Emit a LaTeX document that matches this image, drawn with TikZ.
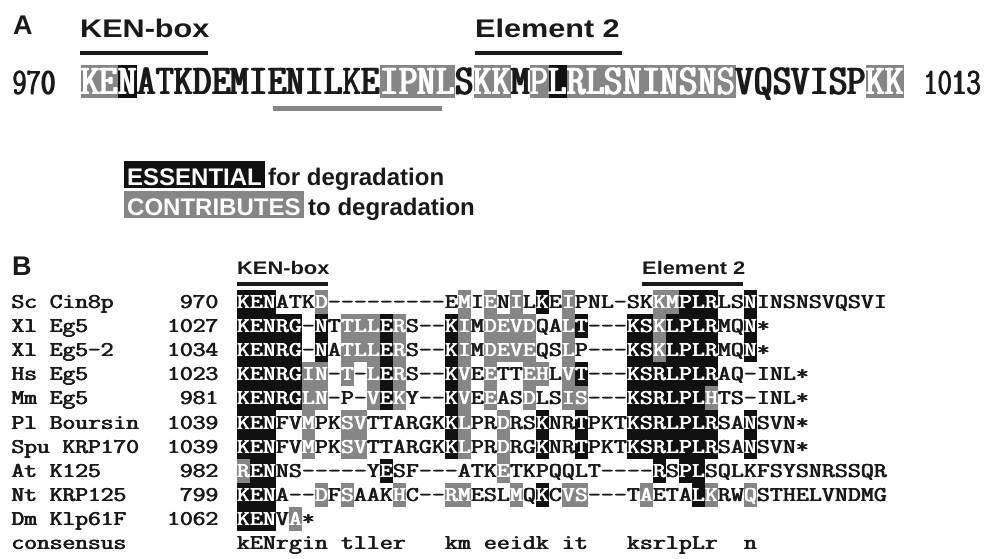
\documentclass[tikz,border=0pt]{standalone}
\usepackage{fontspec}
\setmainfont{Liberation Sans}
\newfontfamily\seqfont{Latin Modern Mono}
\usepackage{tikz}
\definecolor{alblack}{HTML}{111111}
\definecolor{algray}{HTML}{868686}
\definecolor{alink}{HTML}{1A1A1A}
\newcommand{\heavy}[2]{\rlap{#2}\kern#1\rlap{#2}\kern#1#2}
\newcommand{\nm}[1]{\scalebox{1}[0.85]{\heavy{0.5pt}{#1}}}
\newcommand{\alnsetup}[7]{\def\alnL{#1}\def\alnW{#2}\def\alnH{#3}\def\alnB{#4}\def\alnFont{#5}\def\alnS{#6}\def\alnK{#7}}
\newcommand{\alnrow}[4]{\def\alnTag{#1}\def\alnY{#2}\def\alnC{0}\alnwalk#3\relax#4\relax}
\def\alnwalk#1#2\relax#3#4\relax{%
  \alncell{#1}{#3}%
  \pgfmathtruncatemacro\alnC{\alnC+1}%
  \ifx\relax#2\relax\else\alnwalk#2\relax#4\relax\fi}
\newcommand{\alncell}[2]{%
  \pgfmathsetmacro\alnX{\alnL+\alnC*\alnW}%
  \def\alnInk{alink}%
  \if b#2\fill[alblack] (\alnX,\alnY-\alnH/2) rectangle ++(\alnW,\alnH);\def\alnInk{white}\fi
  \if g#2\fill[algray] (\alnX,\alnY-\alnH/2) rectangle ++(\alnW,\alnH);\def\alnInk{white}\fi
  \if .#1\else
    \node[anchor=base,text=\alnInk,font=\alnFont] (\alnTag-\alnC) at (\alnX+\alnW/2,\alnY+\alnB) {\scalebox{1}[\alnS]{\heavy{\alnK}{#1}}};
  \fi}

\begin{document}
\begin{tikzpicture}[x=1pt,y=-1pt,
  every node/.style={inner sep=0pt,text=alink},
  panel/.style={font=\bfseries\fontsize{27}{30}\selectfont,anchor=base west},
  headA/.style={font=\bfseries\fontsize{25.5}{28}\selectfont,anchor=base west},
  headB/.style={font=\bfseries\fontsize{18.2}{20}\selectfont,anchor=base west},
  numA/.style={font=\seqfont\fontsize{27.8}{30}\selectfont,anchor=base west},
  seqB/.style={font=\seqfont\fontsize{24.76}{26}\selectfont,anchor=base west},
  key/.style={font=\bfseries\fontsize{24}{26}\selectfont,anchor=base west},
  keybox/.style={key,text=white,inner xsep=3pt,inner ysep=2pt,text height=22pt,text depth=1pt},
  bar/.style={line width=4pt,draw=alink},
  greybar/.style={line width=5pt,draw=algray}
]
\fill[white] (0,0) rectangle (990,559);
\useasboundingbox (0,0) rectangle (990,559);

\node[panel] (labA) at (13,35) {A};
\node[headA] (kenA) at (80,38) {\scalebox{1.2}[1]{KEN-box}};
\node[headA] (elemA) at (475,38) {\scalebox{1.2}[1]{Element 2}};
\draw[bar] (80,53) -- (208,53);
\draw[bar] (475,53) -- (622,53);
\node[numA] (startA) at (12,94.5) {\scalebox{1}[1.35]{\heavy{0.7pt}{970}}};
\alnsetup{81}{18.7}{33}{13}{\seqfont\fontsize{35.6}{38}\selectfont}{1.2}{0.9pt}
\alnrow{a}{81.5}{KENATKDEMIENILKEIPNLSKKMPLRLSNINSNSVQSVISPKK}{ggb....... ......gggg .gg.gbgggg ggggg..... ..gg}
\node[numA] (endA) at (923,94.5) {\scalebox{1}[1.35]{\heavy{0.7pt}{1013}}};
\draw[greybar] (273,108.5) -- (442,108.5);

\node[keybox,fill=alblack] (ess) at (124,185) {ESSENTIAL};
\node[key] (essnote) at (268,185) {for degradation};
\node[keybox,fill=algray] (con) at (124,215) {CONTRIBUTES};
\node[key] (connote) at (308,215) {to degradation};

\node[panel] (labB) at (12,275) {B};
\node[headB] (kenB) at (237,274) {\scalebox{1.2}[1]{KEN-box}};
\node[headB] (elemB) at (642,274) {\scalebox{1.2}[1]{Element 2}};
\draw[bar] (237,284) -- (328,284);
\draw[bar] (642,284) -- (743,284);

\alnsetup{237}{13}{24.1}{6.5}{\seqfont\fontsize{24.76}{26}\selectfont}{0.85}{0.5pt}
\node[seqB] (sc) at (11,308.5) {\nm{Sc Cin8p}};
\node[seqB,anchor=base east] (scn) at (219,308.5) {\nm{970}};
\alnrow{sc}{302}{KENATKD---------EMIENILKEIPNL-SKKMPLRLSNINSNSVQSVI}{bbb...g... .......g.g .g.b.g.... ..ggbbb..b ..........}
\node[seqB] (xl) at (11,332.6) {\nm{Xl Eg5}};
\node[seqB,anchor=base east] (xln) at (219,332.6) {\nm{1027}};
\alnrow{xl}{326.1}{KENRG-NTTLLERS--KIMDEVDQALT---KSKLPLRMQN*}{bbbbb.b.gg gbg...bg.g ggg..gb... bbgbbbb..b .}
\node[seqB] (xlb) at (11,356.7) {\nm{Xl Eg5-2}};
\node[seqB,anchor=base east] (xlbn) at (219,356.7) {\nm{1034}};
\alnrow{xlb}{350.2}{KENRG-NATLLERS--KIMDEVEQSLP---KSKLPLRMQN*}{bbbbb.b.gg gbg...bg.g ggg..g.... bbgbbbb..b .}
\node[seqB] (hs) at (11,380.8) {\nm{Hs Eg5}};
\node[seqB,anchor=base east] (hsn) at (219,380.8) {\nm{1023}};
\alnrow{hs}{374.3}{KENRGIN-T-LERS--KVEETTEHLVT---KSRLPLRAQ-INL*}{bbbbbgg.g. gbg...bg.g ..gg.gb... bbbbbbb... ....}
\node[seqB] (mm) at (11,404.9) {\nm{Mm Eg5}};
\node[seqB,anchor=base east] (mmn) at (219,404.9) {\nm{981}};
\alnrow{mm}{398.4}{KENRGLN-P-VEKY--KVEEASDLSIS---KSRLPLHTS-INL*}{bbbbbgg... gbg...bg.g ..g..gg... bbbbbbg... ....}
\node[seqB] (pl) at (11,429) {\nm{Pl Boursin}};
\node[seqB,anchor=base east] (pln) at (219,429) {\nm{1039}};
\alnrow{pl}{422.5}{KENFVMPKSVTTARGKKLPRDRSKNRTPKTKSRLPLRSANSVN*}{bbb..g..gg ......bg.. g..b..b... bbbbbbb..b ....}
\node[seqB] (spu) at (11,453.1) {\nm{Spu KRP170}};
\node[seqB,anchor=base east] (spun) at (219,453.1) {\nm{1039}};
\alnrow{spu}{446.6}{KENFVMPKSVTTARGKKLPRDRGKNRTPKTKSRLPLRSANSVN*}{bbb..g..gg ......bg.. g..b..b... bbbbbbb..b ....}
\node[seqB] (at) at (11,477.2) {\nm{At K125}};
\node[seqB,anchor=base east] (atn) at (219,477.2) {\nm{982}};
\alnrow{at}{470.7}{RENNS-----YESF---ATKETKPQQLT----RSPLSQLKFSYSNRSSQR}{gbb....... .b........ g......... ..b.bb.... ..........}
\node[seqB] (nt) at (11,501.3) {\nm{Nt KRP125}};
\node[seqB,anchor=base east] (ntn) at (219,501.3) {\nm{799}};
\alnrow{nt}{494.8}{KENA--DFSAAKHC--RMESLMQKCVS---TAETALKRWQSTHELVNDMG}{bbb...g.g. ..g...gg.. .g.b.gg... .g...bg..g ..........}
\node[seqB] (dm) at (11,525.4) {\nm{Dm Klp61F}};
\node[seqB,anchor=base east] (dmn) at (219,525.4) {\nm{1062}};
\alnrow{dm}{518.9}{KENVA*}{bbb.g.}
\node[seqB] (cons) at (11,549.5) {\nm{consensus}};
\alnrow{cs}{543}{kENrgin.tller...km.eeidk.it...ksrlpLr..n}{.......... .......... .......... ..........}
\end{tikzpicture}
\end{document}
